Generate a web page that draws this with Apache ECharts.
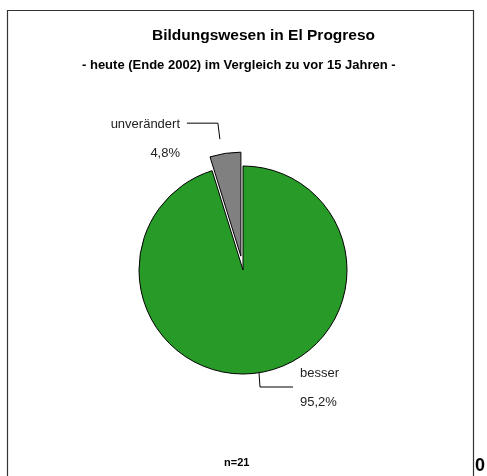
<!DOCTYPE html>
<html>
<head>
<meta charset="utf-8">
<script src="https://cdn.jsdelivr.net/npm/echarts@6/dist/echarts.min.js"></script>
<style>
  html, body { margin: 0; padding: 0; background: #fff; }
  #chart { width: 487px; height: 476px; }
</style>
</head>
<body>
<div id="chart"></div>
<script>
// Daten
var categories = ["besser", "unverändert"];
var shares = [95.2, 4.8];
var sliceColors = ["#289a28", "#808080"];
var sampleNote = "n=21";

var chart = echarts.init(document.getElementById("chart"));

var pieData = categories.map(function (c, i) {
  return {
    name: c,
    value: shares[i],
    selected: i === 1,
    itemStyle: { color: sliceColors[i] },
    label: { distanceToLabelLine: i === 1 ? 13 : 5 }
  };
});

chart.setOption({
  animation: false,
  backgroundColor: "#fff",
  title: [
    {
      text: "Bildungswesen in El Progreso",
      left: 147,
      top: 23,
      textStyle: { fontFamily: "Liberation Sans", fontWeight: "bold", fontSize: 15.5, color: "#000" }
    },
    {
      text: "- heute (Ende 2002) im Vergleich zu vor 15 Jahren -",
      left: 77,
      top: 54,
      textStyle: { fontFamily: "Liberation Sans", fontWeight: "bold", fontSize: 13, color: "#000" }
    }
  ],
  graphic: [
    {
      type: "rect",
      shape: { x: 7.5, y: 10.5, width: 466, height: 480 },
      style: { fill: "none", stroke: "#333", lineWidth: 1.2 },
      z: -1
    },
    {
      type: "text",
      left: 224,
      top: 457,
      style: { text: sampleNote, font: "bold 11px Liberation Sans", fill: "#000" }
    },
    {
      type: "text",
      left: 475,
      top: 457,
      style: { text: "0", font: "bold 18px Liberation Sans", fill: "#000" }
    }
  ],
  series: [
    {
      type: "pie",
      center: [243, 270],
      radius: 104,
      startAngle: 90,
      clockwise: true,
      selectedMode: "single",
      selectedOffset: 14,
      data: pieData,
      itemStyle: { borderColor: "#000", borderWidth: 1 },
      emphasis: { disabled: true },
      label: {
        show: true,
        fontFamily: "Liberation Sans",
        fontSize: 13,
        color: "#222",
        lineHeight: 29,
        formatter: function (p) {
          return p.name + "\n" + p.value.toFixed(1).replace(".", ",") + "%";
        }
      },
      labelLine: {
        show: true,
        lineStyle: { color: "#000", width: 1 }
      },
      labelLayout: function (p) {
        if (p.dataIndex === 1) {
          return {
            x: 172, y: 139, align: "right", verticalAlign: "middle",
            labelLinePoints: [[222, 153], [220, 137], [189, 137]]
          };
        }
        return {
          x: 300, y: 388, align: "left", verticalAlign: "middle",
          labelLinePoints: [[259, 373], [260, 387], [293, 387]]
        };
      }
    }
  ]
});
</script>
</body>
</html>
